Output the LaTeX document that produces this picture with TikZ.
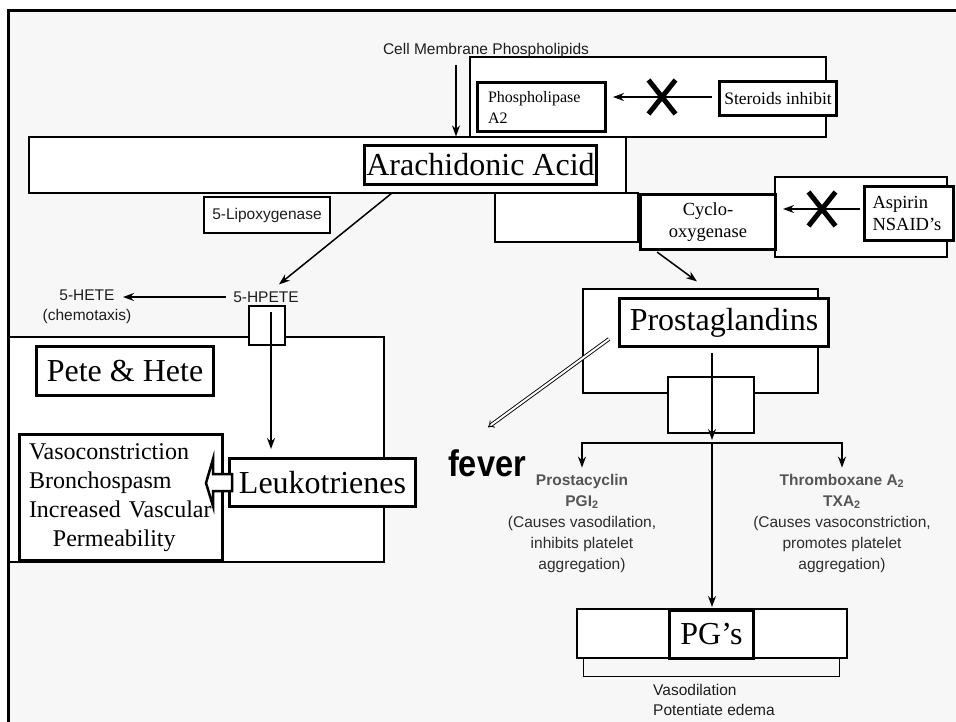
\documentclass[tikz,border=0pt]{standalone}
\usepackage{fontspec}
\setmainfont{Liberation Serif}
\setsansfont{Liberation Sans}
\usetikzlibrary{arrows.meta,shapes.misc}
\definecolor{bgc}{RGB}{247,247,247}
\definecolor{headg}{RGB}{85,85,85}
\definecolor{bodyg}{RGB}{45,45,45}
\definecolor{labg}{RGB}{30,30,30}
\begin{document}
\begin{tikzpicture}[x=1pt,y=-1pt,
 thinbox/.style={draw, fill=white, line width=1.2pt, inner sep=0pt},
 thickbox/.style={draw, fill=white, line width=3pt, inner sep=0pt},
 bigtxt/.style={font=\fontsize{32}{36}\selectfont},
 lab/.style={inner sep=0pt, text=labg, font=\sffamily\fontsize{15.5}{20}\selectfont},
 graytxt/.style={inner sep=0pt, align=center, text=bodyg, font=\sffamily\fontsize{15.5}{21}\selectfont},
 arr/.style={line width=1.5pt, -{Stealth[length=11pt,width=8pt]}},
 plain/.style={line width=1.5pt},
 xmark/.style={cross out, draw, line width=5pt, inner sep=0pt, minimum width=22pt, minimum height=29pt},
 blockarr/.style={draw, fill=white, line width=2.5pt, line join=miter},
]
\useasboundingbox (0,0) rectangle (956,722);
\fill[white] (0,0) rectangle (956,722);
\fill[bgc] (8,10) rectangle (956,722);

% thin background boxes
\node[thinbox, minimum width=356pt, minimum height=80pt] (phosOuter) at (648,97) {};
\node[thinbox, minimum width=597pt, minimum height=56pt] (arachOuter) at (327.5,165) {};
\node[thinbox, minimum width=143pt, minimum height=49pt] (cycloBehind) at (566.5,217.5) {};
\node[thinbox, minimum width=172pt, minimum height=80pt] (aspOuter) at (861,217) {};
\node[thinbox, minimum width=235pt, minimum height=104pt] (prostOuter) at (700.5,341) {};
\node[thinbox, minimum width=376pt, minimum height=225pt] (peteOuter) at (196,449.5) {};
\node[thinbox, minimum width=270pt, minimum height=49pt] (pgOuter) at (712,633.5) {};
\node[thinbox, minimum width=126pt, minimum height=36pt, text=labg, font=\sffamily\fontsize{15.5}{20}\selectfont] (lipox) at (267,215) {5-Lipoxygenase};
\node[thinbox, minimum width=86pt, minimum height=56pt] (prostSmall) at (711,405) {};
\node[thinbox, minimum width=36pt, minimum height=39pt] (hpeteSmall) at (267,325.5) {};

% thick boxes
\node[thickbox, minimum width=128pt, minimum height=49pt, text width=107pt, inner xsep=10.5pt, align=left, font=\fontsize{16}{21}\selectfont] (phosBox) at (541.5,107) {Phospholipase\\A2};
\node[thickbox, minimum width=117pt, minimum height=34pt, font=\fontsize{17.5}{21}\selectfont] (steroids) at (778,98.5) {Steroids inhibit};
\node[thickbox, bigtxt, minimum width=232pt, minimum height=39pt] (arach) at (480.5,165) {Arachidonic Acid};
\node[thickbox, minimum width=135pt, minimum height=55pt, align=center, font=\fontsize{18.5}{22}\selectfont] (cyclo) at (708,222) {Cyclo-\\oxygenase};
\node[thickbox, minimum width=89pt, minimum height=54pt, text width=73pt, inner xsep=8pt, align=left, font=\fontsize{18.5}{22}\selectfont] (aspirin) at (909,213.5) {Aspirin\\NSAID's};
\node[thickbox, bigtxt, minimum width=209pt, minimum height=48pt] (prost) at (724,322.5) {Prostaglandins};
\node[thickbox, bigtxt, minimum width=177pt, minimum height=49pt] (pete) at (125,371) {Pete \& Hete};
\node[thickbox, bigtxt, minimum width=186pt, minimum height=48pt] (leuko) at (322.5,482.5) {Leukotrienes};
\node[thickbox, minimum width=203pt, minimum height=126pt, text width=184pt, inner xsep=9.5pt, align=left, font=\fontsize{24}{29}\selectfont] (effects) at (121,497.5) {Vasoconstriction\\Bronchospasm\\Increased Vascular\\\hspace*{24pt}Permeability};
\node[thickbox, bigtxt, minimum width=84pt, minimum height=48pt] (pg) at (711.5,634.5) {PG's};

% plain labels
\node[lab] (cell) at (486,50) {Cell Membrane Phospholipids};
\node[lab] (hpete) at (266,297) {5-HPETE};
\node[lab, align=center] (hete) at (87,307) {5-HETE\\(chemotaxis)};
\node[inner sep=0pt, font=\sffamily\bfseries\fontsize{37}{40}\selectfont] (fever) at (487,463) {\scalebox{0.88}[1]{fever}};
\node[graytxt] (pgi) at (582,523) {{\color{headg}\textbf{Prostacyclin}}\\{\color{headg}\textbf{PGI\textsubscript{2}}}\\(Causes vasodilation,\\inhibits platelet\\aggregation)};
\node[graytxt] (txa) at (842,523) {{\color{headg}\textbf{Thromboxane A\textsubscript{2}}}\\{\color{headg}\textbf{TXA\textsubscript{2}}}\\(Causes vasoconstriction,\\promotes platelet\\aggregation)};
\node[lab, align=left, anchor=west] (vaso) at (653,700) {Vasodilation\\Potentiate edema};

% X marks
\node[xmark] (X1) at (662,97) {};
\node[xmark] (X2) at (822,209) {};

% coordinates
\coordinate (lipoStart) at (392,193);
\coordinate (heteTip) at (123,297);
\coordinate (J) at (712,443);

% connectors
\draw[arr] ([xshift=-30pt,yshift=-8pt]cell.south) -- ([xshift=-30pt]cell.south |- arachOuter.north);
\draw[arr] ([xshift=-6pt]steroids.west |- X1) -- ([xshift=6pt]phosBox.east |- X1);
\draw[arr] ([xshift=-3pt]aspirin.west |- X2) -- ([xshift=6pt]cyclo.east |- X2);
\draw[arr] (lipoStart) -- ([xshift=13pt,yshift=7pt]hpete.north);
\draw[arr] ([xshift=-7pt]hpete.west) -- (heteTip);
\draw[arr] ([xshift=4pt,yshift=-7pt]hpeteSmall.north) -- ([xshift=4pt,yshift=8pt]hpeteSmall.north |- leuko.north);
\draw[arr] ([xshift=-51pt,yshift=-1pt]cyclo.south) -- ([xshift=-3.5pt,yshift=7pt]prostOuter.north);
\draw[double, double distance=2pt, line width=0.9pt, -{Implies}] ([xshift=-9pt,yshift=-16.5pt]prost.west) -- ([xshift=1pt,yshift=22pt]fever.north);
\draw[arr] ([yshift=-5pt]prost.south -| J) -- ([yshift=3pt]J);
\draw[arr, shorten >=2pt] (J) -- (pg.north -| J);
\draw[plain, {Stealth[length=11pt,width=8pt]}-{Stealth[length=11pt,width=8pt]}] ([yshift=6pt]pgi.north) |- (J) -| ([yshift=6pt]txa.north);
\draw[plain] ([xshift=7pt]pgOuter.south west) -- ++(0,18) -| ([xshift=-8pt]pgOuter.south east);

% block arrow Leukotrienes -> effects
\draw[blockarr] ([xshift=4pt,yshift=8.5pt]leuko.west) -- ++(-19,0) -- ++(0,-15) -- ++(-7,24) -- ++(7,23) -- ++(0,-15) -- ++(19,0) -- cycle;

% frame
\draw[line width=3.5pt] (8.5,722) -- (8.5,10.5) -- (956,10.5);
\end{tikzpicture}
\end{document}
